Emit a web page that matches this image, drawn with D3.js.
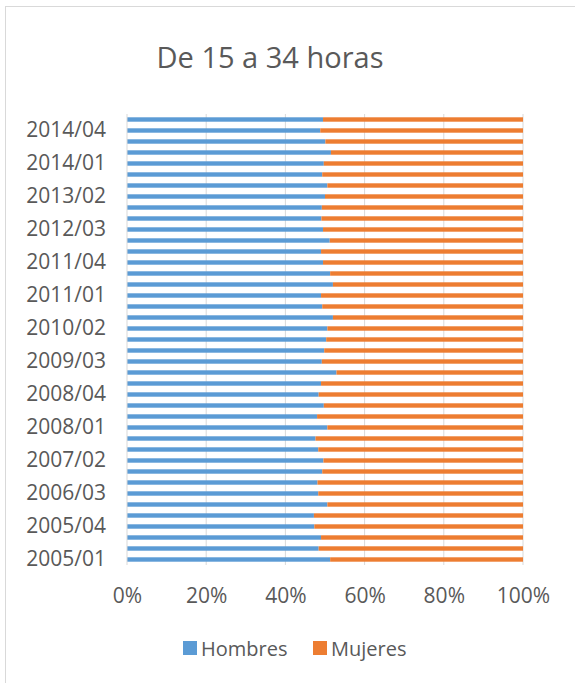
<!DOCTYPE html>
<html><head><meta charset="utf-8">
<script src="https://cdn.jsdelivr.net/npm/d3@7"></script>
<style>html,body{margin:0;padding:0;background:#fff;}svg{display:block;}</style>
</head><body>
<svg id="c" width="575" height="683"></svg>
<script>
const categories = ["2005/01","2005/02","2005/03","2005/04","2006/01","2006/02","2006/03","2006/04",
"2007/01","2007/02","2007/03","2007/04","2008/01","2008/02","2008/03","2008/04",
"2009/01","2009/02","2009/03","2009/04","2010/01","2010/02","2010/03","2010/04",
"2011/01","2011/02","2011/03","2011/04","2012/01","2012/02","2012/03","2012/04",
"2013/01","2013/02","2013/03","2013/04","2014/01","2014/02","2014/03","2014/04","2015/01"];
const hombres = [51.3,48.4,49.0,47.3,47.2,50.6,48.3,48.1,49.3,49.6,48.3,47.6,50.6,48.0,49.7,48.4,49.0,52.9,49.2,49.8,50.3,50.6,52.0,49.3,49.0,52.0,51.3,49.5,49.0,51.2,49.5,49.1,49.2,50.0,50.6,49.3,49.7,51.5,50.1,48.8,49.5];
const mujeres = [48.7,51.6,51.0,52.7,52.8,49.4,51.7,51.9,50.7,50.4,51.7,52.4,49.4,52.0,50.3,51.6,51.0,47.1,50.8,50.2,49.7,49.4,48.0,50.7,51.0,48.0,48.7,50.5,51.0,48.8,50.5,50.9,50.8,50.0,49.4,50.7,50.3,48.5,49.9,51.2,50.5];
const seriesNames = ["Hombres","Mujeres"];
const seriesColors = ["#5B9BD5","#ED7D31"];
const xTicks = [0,0.2,0.4,0.6,0.8,1.0];
const title = "De 15 a 34 horas";

const svg = d3.select("#c");
const font = "'Open Sans', 'Noto Sans', sans-serif";
const textColor = "#595959";

svg.append("rect").attr("x",5.5).attr("y",6.5).attr("width",600).attr("height",700)
  .attr("fill","#fff").attr("stroke","#D9D9D9").attr("stroke-width",1);

const x = d3.scaleLinear().domain([0,1]).range([127,523]);
const y = d3.scaleBand().domain(categories.slice().reverse()).range([114,565]).paddingInner(0.6).paddingOuter(0.3);

// gridlines
svg.append("g").selectAll("line").data(xTicks.slice(1)).join("line")
  .attr("x1",d=>x(d)).attr("x2",d=>x(d)).attr("y1",114).attr("y2",565)
  .attr("stroke","#D9D9D9").attr("stroke-width",1);

const rows = categories.map((c,i)=>({c, h: hombres[i], m: mujeres[i], t: hombres[i]+mujeres[i]}));
const data = rows.map(r=>({c:r.c, Hombres:r.h/r.t, Mujeres:r.m/r.t}));
const stack = d3.stack().keys(seriesNames)(data);

svg.append("g").selectAll("g").data(stack).join("g")
  .attr("fill",(d,i)=>seriesColors[i])
  .selectAll("rect").data(d=>d).join("rect")
  .attr("x",d=>x(d[0])).attr("width",d=>x(d[1])-x(d[0]))
  .attr("y",d=>y(d.data.c)).attr("height",y.bandwidth());

// y axis line
svg.append("line").attr("x1",x(0)).attr("x2",x(0)).attr("y1",114).attr("y2",565)
  .attr("stroke","#D9D9D9").attr("stroke-width",1);

// y labels
const yAxis = d3.axisLeft(y).tickSize(0).tickPadding(0)
  .tickValues(categories.filter((c,i)=>i%3===0));
const yg = svg.append("g").attr("transform",`translate(${x(0)-21},0)`).call(yAxis);
yg.select(".domain").remove();
yg.selectAll("text").attr("fill",textColor).style("font-family",font).style("font-size","21px");

// x labels
const xAxis = d3.axisBottom(x).tickValues(xTicks).tickSize(0).tickPadding(0).tickFormat(d3.format(".0%"));
const xg = svg.append("g").attr("transform","translate(0,588)").call(xAxis);
xg.select(".domain").remove();
xg.selectAll("text").attr("fill",textColor).style("font-family",font).style("font-size","21px");

// title
svg.append("text").attr("x",270).attr("y",68).attr("text-anchor","middle")
  .attr("fill",textColor).style("font-family",font).style("font-size","29px").text(title);

// legend
const leg = svg.append("g");
const legX = [183,313];
seriesNames.forEach((n,i)=>{
  leg.append("rect").attr("x",legX[i]).attr("y",641).attr("width",14).attr("height",14).attr("fill",seriesColors[i]);
  leg.append("text").attr("x",legX[i]+18).attr("y",656).attr("fill",textColor)
    .style("font-family",font).style("font-size","20px").text(n);
});
</script>
</body></html>
